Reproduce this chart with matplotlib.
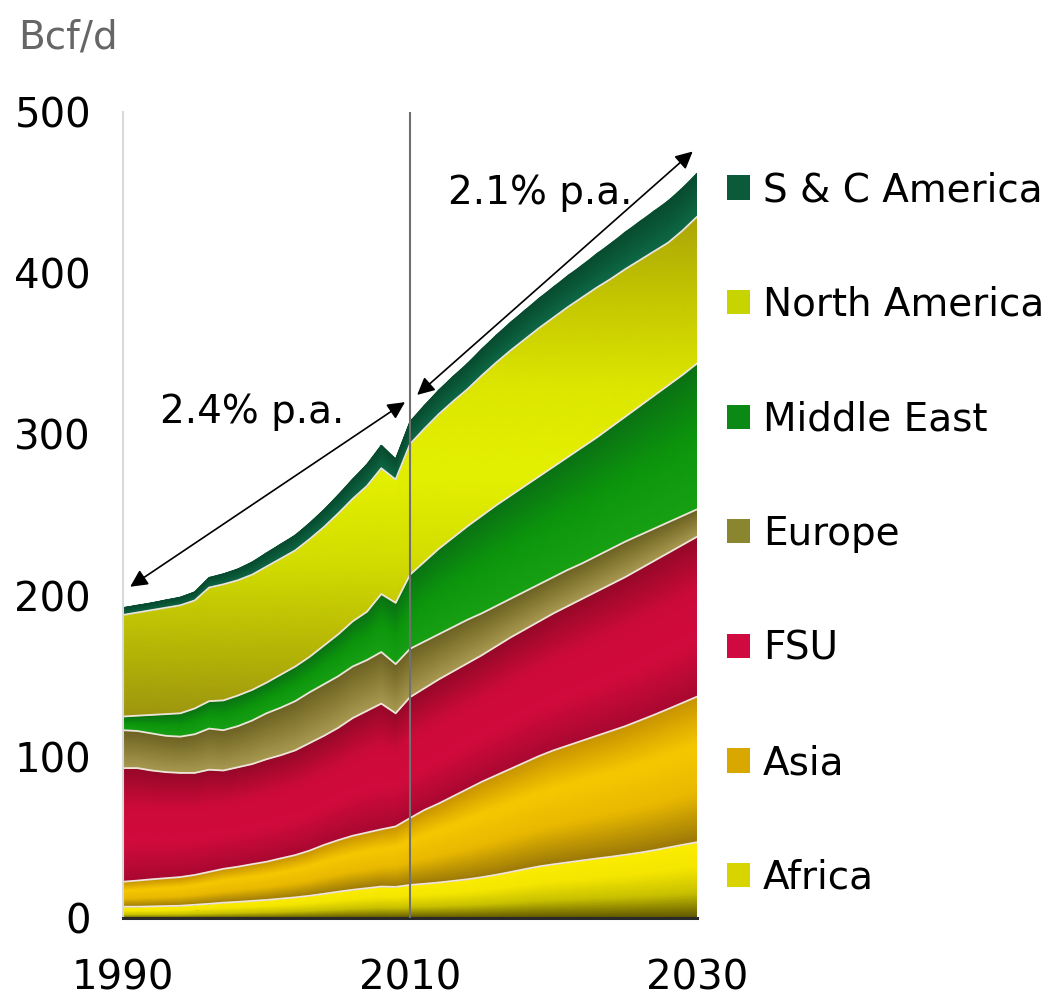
import numpy as np
import matplotlib
matplotlib.use('Agg')
import matplotlib.pyplot as plt
from matplotlib.colors import LinearSegmentedColormap, Normalize
from matplotlib.patches import Patch

plt.rcParams['font.family'] = ['DejaVu Sans']

# ---------------- data (Bcf/d) ----------------
years = list(range(1990, 2031))

africa = [7.0, 7.0, 7.2, 7.4, 7.6, 8.2, 8.8, 9.5, 10.0, 10.6,
          11.2, 12.0, 12.8, 13.8, 15.0, 16.3, 17.5, 18.5, 19.5, 19.3,
          20.5, 21.2, 22.0, 23.0, 24.0, 25.3, 26.8, 28.5, 30.3, 32.0,
          33.3, 34.5, 35.7, 36.9, 38.0, 39.2, 40.5, 42.0, 43.7, 45.4, 47.0]

asia = [15.5, 16.2, 16.8, 17.3, 17.8, 18.5, 19.8, 21.0, 21.8, 22.8,
        23.7, 25.0, 26.2, 28.0, 30.3, 32.0, 33.5, 34.5, 35.5, 37.5,
        41.5, 45.8, 49.0, 52.5, 56.0, 59.2, 61.7, 64.0, 66.2, 68.5,
        70.7, 72.5, 74.3, 76.1, 78.0, 79.8, 82.0, 84.0, 86.0, 88.1, 90.3]

fsu = [70.5, 69.8, 67.5, 65.8, 64.6, 63.3, 63.4, 61.0, 61.7, 62.1,
       63.6, 64.0, 65.0, 66.7, 67.7, 69.7, 73.0, 75.5, 78.0, 70.2,
       75.0, 75.5, 77.0, 77.5, 78.0, 78.5, 80.0, 81.5, 82.5, 83.5,
       85.0, 86.5, 88.0, 89.5, 91.0, 92.5, 94.0, 95.5, 96.8, 98.0, 99.2]

europe = [23.5, 23.0, 23.0, 22.5, 22.5, 24.0, 25.5, 25.0, 25.5, 27.0,
          28.5, 29.5, 30.5, 31.5, 32.0, 32.0, 32.0, 31.5, 32.0, 30.5,
          30.0, 29.0, 28.0, 27.5, 27.0, 26.0, 25.0, 24.0, 23.5, 23.0,
          22.5, 22.5, 22.0, 22.0, 22.0, 22.0, 21.0, 20.0, 19.0, 18.0, 17.0]

middle_east = [8.5, 9.5, 11.5, 13.5, 14.5, 16.0, 17.0, 18.5, 19.0, 19.0,
               19.0, 20.5, 21.5, 22.0, 24.0, 26.0, 28.0, 30.0, 36.0, 38.0,
               46.0, 49.5, 53.0, 55.5, 58.0, 60.5, 62.5, 64.0, 65.5, 67.0,
               68.5, 70.0, 72.0, 73.5, 75.5, 77.5, 80.0, 82.5, 85.0, 87.5, 90.5]

north_america = [63.0, 64.0, 65.0, 66.0, 67.0, 67.0, 70.5, 72.0, 71.5, 71.5,
                 72.0, 72.0, 72.0, 73.0, 73.5, 75.0, 76.0, 78.0, 78.0, 76.5,
                 81.0, 82.5, 83.5, 84.5, 85.0, 87.0, 88.5, 90.0, 91.0, 92.0,
                 92.5, 93.0, 93.0, 93.0, 92.0, 91.5, 90.5, 89.5, 88.5, 89.5, 91.0]

sc_america = [4.5, 4.5, 4.5, 4.8, 5.0, 5.3, 6.2, 6.5, 7.0, 7.8,
              8.5, 9.0, 9.5, 10.0, 10.8, 11.5, 12.3, 13.5, 14.3, 12.8,
              14.0, 14.5, 15.0, 15.5, 16.0, 16.5, 17.0, 17.5, 18.0, 18.5,
              19.0, 19.5, 20.0, 21.0, 22.0, 23.0, 24.0, 25.0, 26.0, 26.5, 27.0]

series_names = ['Africa', 'Asia', 'FSU', 'Europe', 'Middle East',
                'North America', 'S & C America']
series_values = [africa, asia, fsu, europe, middle_east, north_america, sc_america]

y_ticks = [0, 100, 200, 300, 400, 500]
x_ticks = [1990, 2010, 2030]
unit_label = 'Bcf/d'
growth_labels = ['2.4% p.a.', '2.1% p.a.']

# ---------------- styles ----------------
# relative (bottom -> top of band) gradients
band_colors = {
    'Africa': ['#5e5400', '#c8c000', '#f4e600', '#fbec00'],
    'Asia': ['#9a7808', '#e8b800', '#f6c800', '#c89400'],
    'FSU': ['#a80830', '#d00a3c', '#cc0a3a', '#960828'],
    'Europe': ['#a89a50', '#8c7e38', '#6c6222'],
    'Middle East': ['#18a014', '#0c960c', '#0a7214'],
    'S & C America': ['#0e6a46', '#0a5a3a', '#084c30'],
}
# North America shading follows the absolute level (Bcf/d)
na_levels = (110, 440)
na_colors = ['#948a12', '#b4b406', '#d2dc00', '#e4f000', '#dce600', '#c4c600', '#a8a208']

legend_colors = {
    'Africa': '#d8d400', 'Asia': '#d8a800', 'FSU': '#d00a40',
    'Europe': '#8a8630', 'Middle East': '#0a8a14',
    'North America': '#c8d400', 'S & C America': '#0b5a3a',
}

FS = 29

fig = plt.figure(figsize=(10.61, 10.0), dpi=100)
ax = fig.add_axes([123 / 1061, 0.082, (697 - 123) / 1061, 0.806])

x = np.array(years, dtype=float)
cum = np.cumsum(np.array(series_values, dtype=float), axis=0)
lower = np.zeros_like(x)
nrow = 24
t = np.linspace(0, 1, nrow)[:, None]
for name, upper in zip(series_names, cum):
    X = np.broadcast_to(x, (nrow, x.size))
    Y = lower[None, :] + t * (upper - lower)[None, :]
    if name == 'North America':
        cmap = LinearSegmentedColormap.from_list(name, na_colors)
        ax.pcolormesh(X, Y, Y, cmap=cmap, norm=Normalize(*na_levels),
                      shading='gouraud', zorder=1, rasterized=True)
    else:
        C = np.broadcast_to(t, (nrow, x.size))
        cmap = LinearSegmentedColormap.from_list(name, band_colors[name])
        ax.pcolormesh(X, Y, C, cmap=cmap, vmin=0, vmax=1, shading='gouraud',
                      zorder=1, rasterized=True)
    lower = upper

for upper in cum[:-1]:
    ax.plot(x, upper, color='#efe4dc', lw=1.3, zorder=2)

ax.set_xlim(1990, 2030)
ax.set_ylim(0, 500)
ax.set_xticks(x_ticks)
ax.set_yticks(y_ticks)
ax.set_xticklabels([str(v) for v in x_ticks])
ax.tick_params(axis='y', length=0, pad=23, labelsize=FS, colors='black')
ax.tick_params(axis='x', length=0, pad=29, labelsize=FS, colors='black')
for s in ['top', 'right']:
    ax.spines[s].set_visible(False)
ax.spines['left'].set_color('#d9d9d9')
ax.spines['left'].set_linewidth(1.5)
ax.spines['bottom'].set_color('#2a2a2a')
ax.spines['bottom'].set_linewidth(2.2)
ax.patch.set_alpha(0)

# 2010 divider
ax.axvline(2010, color='#707070', lw=1.5, zorder=3)

# growth arrows
arrow_kw = dict(arrowstyle='<|-|>', color='black', lw=1.2,
                mutation_scale=26, shrinkA=0, shrinkB=0)
ax.annotate('', xy=(1990.5, 205.5), xytext=(2009.65, 320),
            arrowprops=arrow_kw, zorder=4)
ax.annotate('', xy=(2010.5, 324.5), xytext=(2029.7, 475.5),
            arrowprops=arrow_kw, zorder=4, annotation_clip=False)
ax.text(1999.0, 314, growth_labels[0], ha='center', va='center',
        fontsize=FS - 1, zorder=5)
ax.text(2019.1, 450, growth_labels[1], ha='center', va='center',
        fontsize=FS - 1, zorder=5)

fig.text(18 / 1061, 1 - 37 / 1000, unit_label, ha='left', va='center',
         fontsize=FS - 1, color='#666666')

handles = [Patch(facecolor=legend_colors[n], edgecolor='none')
           for n in series_names[::-1]]
fig.legend(handles, series_names[::-1], loc='center left',
           bbox_to_anchor=(727 / 1061, 0.466), frameon=False, fontsize=FS - 1,
           handlelength=0.58, handleheight=0.58, handletextpad=0.35,
           labelspacing=1.97, borderpad=0, borderaxespad=0)

fig.savefig('out.png', dpi=100, facecolor='white')
